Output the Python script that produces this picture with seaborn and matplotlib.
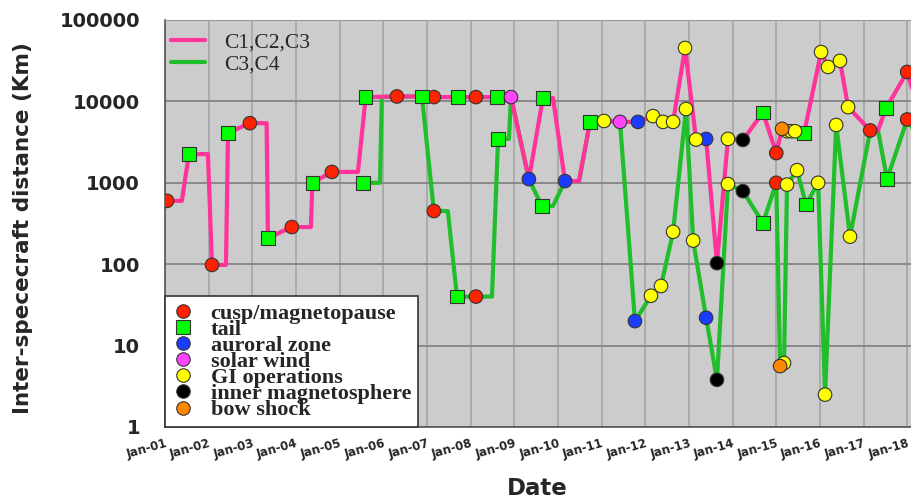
"""
Cluster inter-spacecraft separation 2001-2018, by science region
"""

import matplotlib
matplotlib.use("Agg")
import matplotlib.pyplot as plt
import matplotlib.dates as mdates
from matplotlib.lines import Line2D
from matplotlib.font_manager import FontProperties
from matplotlib.ticker import FixedLocator, FuncFormatter, NullLocator
import seaborn as sns
import pandas as pd

# separation line C1,C2,C3 (vertices incl. step corners)
pink_dates = [
    "2001-01-18", "2001-05-22", "2001-07-20", "2001-12-26", "2002-01-29", "2002-05-26",
    "2002-06-12", "2002-12-12", "2003-05-01", "2003-05-12", "2003-11-28", "2004-05-05",
    "2004-05-18", "2004-10-28", "2005-06-03", "2005-08-07", "2006-04-25", "2006-11-20",
    "2007-02-28", "2007-09-17", "2008-02-15", "2008-08-09", "2008-12-04", "2009-05-03",
    "2009-08-28", "2009-11-20", "2010-03-01", "2010-06-26", "2010-09-26", "2011-01-21",
    "2011-06-04", "2011-11-01", "2012-03-06", "2012-05-29", "2012-08-21", "2012-11-29",
    "2013-03-01", "2013-05-24", "2013-08-23", "2013-11-23", "2014-03-28", "2014-09-12",
    "2015-01-01", "2015-02-19", "2015-04-01", "2015-05-04", "2015-06-07", "2015-08-22",
    "2016-01-11", "2016-03-09", "2016-06-17", "2016-08-24", "2017-02-25", "2017-05-01",
    "2017-07-08", "2017-12-31", "2018-03-15",
]
pink_km = [
    600, 600, 2250, 2250, 98, 98,
    4100, 5400, 5400, 210, 286, 286,
    1000, 1360, 1360, 11300, 11500, 11500,
    11300, 11300, 11300, 11300, 11300, 1110,
    11000, 11000, 1050, 1050, 5600, 5750,
    5600, 5600, 6600, 5600, 5600, 45300,
    3400, 3460, 103, 3460, 3360, 7300,
    2320, 4600, 4300, 4300, 4300, 4100,
    40400, 26500, 31500, 8500, 4400, 4400,
    8300, 23000, 9900,
]

# separation line C3,C4
green_dates = [
    "2005-07-14", "2005-12-04", "2005-12-20", "2006-04-25", "2006-11-20", "2007-02-28",
    "2007-06-25", "2007-09-09", "2008-02-15", "2008-06-28", "2008-08-18", "2008-11-17",
    "2008-12-04", "2009-05-03", "2009-08-20", "2009-11-20", "2010-03-01", "2010-06-26",
    "2010-09-26", "2011-01-21", "2011-06-04", "2011-10-07", "2012-02-18", "2012-05-12",
    "2012-08-21", "2012-12-07", "2013-02-05", "2013-05-24", "2013-08-23", "2013-11-23",
    "2014-03-28", "2014-09-12", "2015-01-01", "2015-02-02", "2015-03-07", "2015-04-01",
    "2015-06-24", "2015-09-07", "2015-12-17", "2016-02-13", "2016-05-16", "2016-09-09",
    "2017-02-25", "2017-05-01", "2017-07-16", "2017-12-31", "2018-03-15",
]
green_km = [
    1000, 1000, 11300, 11500, 11500, 450,
    450, 40, 40, 40, 3460, 3460,
    11300, 1110, 519, 519, 1050, 1050,
    5600, 5750, 5600, 20, 41, 54,
    250, 8070, 195, 22, 3.8, 965,
    790, 321, 1000, 5.6, 6.1, 950,
    1430, 540, 1000, 2.5, 5130, 218,
    4400, 4400, 1110, 6000, 3900,
]

# markers by region: (date, km)
cusp = [
    ("2001-01-18", 600), ("2002-01-29", 98), ("2002-12-12", 5400), ("2003-11-28", 286),
    ("2004-10-28", 1360), ("2006-04-25", 11500), ("2007-02-28", 11300), ("2007-02-28", 450),
    ("2008-02-15", 11300), ("2008-02-15", 40), ("2015-01-01", 2320), ("2015-01-01", 1000),
    ("2017-02-25", 4400), ("2017-12-31", 23000), ("2017-12-31", 6000),
]
tail = [
    ("2001-07-20", 2250), ("2002-06-12", 4100), ("2003-05-12", 210), ("2004-05-18", 1000),
    ("2005-07-14", 1000), ("2005-08-07", 11300), ("2006-11-20", 11500), ("2007-09-09", 40),
    ("2007-09-17", 11300), ("2008-08-09", 11300), ("2008-08-18", 3460), ("2009-08-28", 11000),
    ("2009-08-20", 519), ("2010-09-26", 5600), ("2014-09-12", 7300), ("2014-09-12", 321),
    ("2015-08-22", 4100), ("2015-09-07", 540), ("2017-07-08", 8300), ("2017-07-16", 1110),
]
auroral = [
    ("2009-05-03", 1110), ("2010-03-01", 1050), ("2011-10-07", 20), ("2011-11-01", 5600),
    ("2013-05-24", 3460), ("2013-05-24", 22),
]
solar_wind = [("2008-12-04", 11300), ("2011-06-04", 5600)]
gi_ops = [
    ("2011-01-21", 5750), ("2012-03-06", 6600), ("2012-05-29", 5600), ("2012-08-21", 5600),
    ("2012-11-29", 45300), ("2013-03-01", 3400), ("2013-11-23", 3460), ("2015-04-01", 4300),
    ("2015-05-04", 4300), ("2015-06-07", 4300), ("2016-01-11", 40400), ("2016-03-09", 26500),
    ("2016-06-17", 31500), ("2016-08-24", 8500),
    ("2012-02-18", 41), ("2012-05-12", 54), ("2012-08-21", 250), ("2012-12-07", 8070),
    ("2013-02-05", 195), ("2013-11-23", 965), ("2015-03-07", 6.1), ("2015-04-01", 950),
    ("2015-06-24", 1430), ("2015-12-17", 1000), ("2016-02-13", 2.5), ("2016-05-16", 5130),
    ("2016-09-09", 218),
]
inner_msph = [("2013-08-23", 103), ("2013-08-23", 3.8), ("2014-03-28", 3360), ("2014-03-28", 790)]
bow_shock = [("2015-02-02", 5.6), ("2015-02-19", 4600)]

region_names = ["cusp/magnetopause", "tail", "auroral zone", "solar wind",
                "GI operations", "inner magnetosphere", "bow shock"]
region_points = [cusp, tail, auroral, solar_wind, gi_ops, inner_msph, bow_shock]
region_colors = ["#FF2200", "#00FF00", "#1A3CFF", "#FF44FF", "#FFFF00", "#000000", "#FF8800"]
region_markers = ["o", "s", "o", "o", "o", "o", "o"]

year_ticks = [str(y) for y in range(2001, 2019)]
decades = [1, 10, 100, 1000, 10000, 100000]

PINK = "#FF3399"
GREEN = "#20BE2A"
EDGE = "#333333"

sns.set_style("white")
plt.rcParams["font.family"] = ["DejaVu Sans"]

pink_df = pd.DataFrame({"date": pd.to_datetime(pink_dates), "km": pink_km})
green_df = pd.DataFrame({"date": pd.to_datetime(green_dates), "km": green_km})

rows = []
for name, pts in zip(region_names, region_points):
    for d, v in pts:
        rows.append({"date": pd.Timestamp(d), "km": v, "region": name})
marks = pd.DataFrame(rows)

fig = plt.figure(figsize=(9.12, 4.99), dpi=100)
# axes run past the right edge of the figure, like the original crop
ax = fig.add_axes([165 / 912, 72 / 499, 765 / 912, 407 / 499])
ax.set_facecolor("#CCCCCC")

sns.lineplot(data=green_df, x="date", y="km", sort=False, estimator=None,
             color=GREEN, lw=3, ax=ax, zorder=3)
sns.lineplot(data=pink_df, x="date", y="km", sort=False, estimator=None,
             color=PINK, lw=3, ax=ax, zorder=4)
sns.scatterplot(data=marks, x="date", y="km", hue="region", style="region",
                hue_order=region_names, style_order=region_names,
                palette=dict(zip(region_names, region_colors)),
                markers=dict(zip(region_names, region_markers)),
                s=95, edgecolor=EDGE, linewidth=0.8, legend=False, ax=ax, zorder=5)

ax.set_yscale("log")
ax.set_ylim(1, 100000)
ax.yaxis.set_major_locator(FixedLocator(decades))
ax.yaxis.set_minor_locator(NullLocator())
ax.yaxis.set_major_formatter(FuncFormatter(lambda v, p: f"{int(round(v))}"))

ax.set_xlim(pd.Timestamp("2001-01-01"), pd.Timestamp("2018-07-10"))
ax.xaxis.set_major_locator(FixedLocator(mdates.date2num(pd.to_datetime(year_ticks))))
ax.xaxis.set_major_formatter(mdates.DateFormatter("%b-%y"))

ax.grid(True, axis="y", color="#858585", lw=1.3, zorder=0)
ax.grid(True, axis="x", color="#A8A8A8", lw=1.3, zorder=0)
ax.set_axisbelow(True)
for side in ["left", "bottom"]:
    ax.spines[side].set_color("#555555")
    ax.spines[side].set_linewidth(1.2)
ax.spines["top"].set_color("#999999")
ax.spines["right"].set_visible(False)

ax.tick_params(axis="y", which="major", direction="out", length=4, color="#666666",
               pad=14, labelsize=14)
ax.tick_params(axis="x", which="major", direction="out", length=4, color="#666666",
               pad=3, labelsize=8.5)
for lbl in ax.get_yticklabels():
    lbl.set_fontweight("bold")
for lbl in ax.get_xticklabels():
    lbl.set_fontweight("bold")
    lbl.set_rotation(16)
    lbl.set_ha("right")
    lbl.set_rotation_mode("anchor")

ax.set_ylabel("Inter-spececraft distance (Km)", fontsize=15.5, fontweight="bold")
ax.yaxis.set_label_coords(-0.172, 0.49)
ax.set_xlabel("Date", fontsize=16.5, fontweight="bold")
ax.xaxis.set_label_coords(0.486, -0.122)

# line legend, top left, no frame
line_handles = [Line2D([], [], color=PINK, lw=3), Line2D([], [], color=GREEN, lw=3)]
leg1 = ax.legend(line_handles, ["C1,C2,C3", "C3,C4"], loc="upper left",
                 bbox_to_anchor=(6 / 765, 1 - 12 / 407), borderaxespad=0, borderpad=0,
                 frameon=False, handlelength=1.6, handletextpad=0.85, labelspacing=0.1,
                 prop=FontProperties(family="Liberation Serif", size=15.5))
ax.add_artist(leg1)

# region legend, bottom left, boxed
mark_handles = [Line2D([], [], ls="", marker=m, ms=9.7, mfc=c, mec=EDGE, mew=0.8)
                for m, c in zip(region_markers, region_colors)]
leg2 = ax.legend(mark_handles, region_names, loc="lower left", bbox_to_anchor=(0, 0),
                 borderaxespad=0, borderpad=0.3, frameon=True, fancybox=False,
                 edgecolor="#333333", framealpha=1, handlelength=1.0, handletextpad=0.75,
                 labelspacing=-0.2,
                 prop=FontProperties(family="Liberation Serif", weight="bold", size=16))
leg2.get_frame().set_linewidth(1.2)
leg2.set_zorder(10)

fig.savefig("out.png", dpi=100)
